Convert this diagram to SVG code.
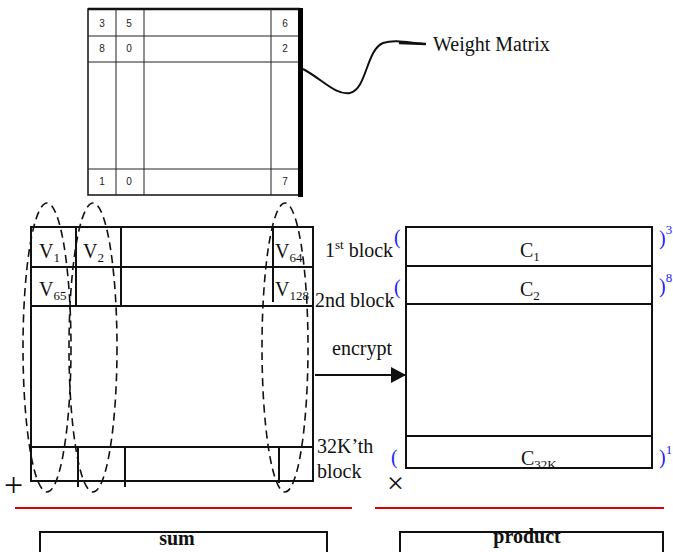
<svg xmlns="http://www.w3.org/2000/svg" width="673" height="552" viewBox="0 0 673 552">
<style>
.t{font-family:"Liberation Serif","Times New Roman",serif;font-size:20px;fill:#111}
.b{font-weight:bold}
.blue{font-family:"Liberation Serif","Times New Roman",serif;fill:#2222ff}
.num{font-family:"Liberation Sans","DejaVu Sans",sans-serif;font-size:10px;fill:#222}
.ln{stroke:#111;stroke-width:2;fill:none}
.thin{stroke:#222;stroke-width:1;fill:none}
.dash{stroke:#111;stroke-width:1.6;fill:none;stroke-dasharray:8 5}
.red{stroke:#e00000;stroke-width:2}
</style>
<defs>
<marker id="ah" markerWidth="16" markerHeight="16" refX="15" refY="8" orient="auto" markerUnits="userSpaceOnUse">
<path d="M0,0 L15,8 L0,16 Z" fill="#111"/>
</marker>
<clipPath id="clipC"><rect x="406" y="436" width="246" height="32"/></clipPath>
</defs>

<g id="weight-matrix">
<rect x="88" y="9" width="212" height="186" fill="#fff" stroke="#111" stroke-width="1.5"/>
<line x1="88" y1="9" x2="300" y2="9" stroke="#111" stroke-width="2.5"/>
<rect x="298" y="8" width="5" height="189" fill="#000"/>
<line class="thin" x1="116" y1="9" x2="116" y2="195"/>
<line class="thin" x1="144" y1="9" x2="144" y2="195"/>
<line class="thin" x1="271" y1="9" x2="271" y2="195"/>
<line class="thin" x1="88" y1="36" x2="298" y2="36"/>
<line class="thin" x1="88" y1="62" x2="298" y2="62"/>
<line class="thin" x1="88" y1="169" x2="298" y2="169"/>
<text class="num" x="102" y="27" text-anchor="middle">3</text>
<text class="num" x="129" y="27" text-anchor="middle">5</text>
<text class="num" x="285" y="27" text-anchor="middle">6</text>
<text class="num" x="102" y="52" text-anchor="middle">8</text>
<text class="num" x="129" y="52" text-anchor="middle">0</text>
<text class="num" x="285" y="52" text-anchor="middle">2</text>
<text class="num" x="102" y="185" text-anchor="middle">1</text>
<text class="num" x="129" y="185" text-anchor="middle">0</text>
<text class="num" x="285" y="185" text-anchor="middle">7</text>
</g>

<g id="weight-label">
<text class="t" x="433" y="51">Weight Matrix</text>
</g>

<g id="vector-grid">
<rect x="31" y="227" width="282" height="254" class="ln"/>
<line class="ln" x1="31" y1="267" x2="313" y2="267"/>
<line class="ln" x1="31" y1="306" x2="313" y2="306"/>
<line class="ln" x1="31" y1="447" x2="313" y2="447"/>
<line class="ln" x1="76" y1="227" x2="76" y2="306"/>
<line class="ln" x1="121" y1="227" x2="121" y2="306"/>
<line class="ln" x1="273" y1="227" x2="273" y2="302"/>
<line class="ln" x1="78" y1="447" x2="78" y2="487"/>
<line class="ln" x1="125" y1="447" x2="125" y2="487"/>
<line class="ln" x1="279" y1="447" x2="279" y2="483"/>
<text class="t" x="39" y="258">V<tspan font-size="13" dy="4">1</tspan></text>
<text class="t" x="83" y="258">V<tspan font-size="13" dy="4">2</tspan></text>
<text class="t" x="275" y="258">V<tspan font-size="13" dy="4">64</tspan></text>
<text class="t" x="39" y="296">V<tspan font-size="13" dy="4">65</tspan></text>
<text class="t" x="275" y="296">V<tspan font-size="13" dy="4">128</tspan></text>
</g>

<g id="column-groups">
<ellipse class="dash" cx="47" cy="347.5" rx="24" ry="144.5"/>
<ellipse class="dash" cx="93" cy="347.5" rx="24" ry="144.5"/>
<ellipse class="dash" cx="285" cy="347.5" rx="23" ry="144.5"/>
</g>

<g id="block-labels">
<text class="t" x="325" y="257">1<tspan font-size="13" dy="-8">st</tspan><tspan dy="8"> block</tspan></text>
<text class="t" x="315" y="307">2nd block</text>
<text class="t" x="317" y="453">32K’th</text>
<text class="t" x="317" y="478">block</text>
<text class="t" x="332" y="355">encrypt</text>
<text class="t" x="4" y="496" style="font-size:34px">+</text>
<text class="t" x="387" y="493" style="font-size:30px">×</text>
</g>

<g id="cipher-blocks">
<rect x="406" y="227" width="246" height="241" class="ln"/>
<line class="ln" x1="406" y1="266" x2="652" y2="266"/>
<line class="ln" x1="406" y1="304" x2="652" y2="304"/>
<line class="ln" x1="406" y1="436" x2="652" y2="436"/>
<text class="t" x="520" y="257">C<tspan font-size="13" dy="4">1</tspan></text>
<text class="t" x="520" y="296">C<tspan font-size="13" dy="4">2</tspan></text>
<text class="t" x="521" y="465" clip-path="url(#clipC)">C<tspan font-size="13" dy="4">32K</tspan></text>
<text class="blue" font-size="20" x="394" y="244">(</text>
<text class="blue" font-size="20" x="394" y="294">(</text>
<text class="blue" font-size="20" x="391" y="464">(</text>
<text class="blue" font-size="20" x="659" y="245">)<tspan font-size="13" dy="-11">3</tspan></text>
<text class="blue" font-size="20" x="659" y="293">)<tspan font-size="13" dy="-11">8</tspan></text>
<text class="blue" font-size="20" x="659" y="464">)<tspan font-size="13" dy="-10">1</tspan></text>
</g>

<g id="sum-box">
<rect x="40" y="532" width="287" height="40" class="ln"/>
<text class="t b" x="177" y="545" text-anchor="middle">sum</text>
</g>
<g id="product-box">
<rect x="400" y="532" width="263" height="40" class="ln"/>
<text class="t b" x="527" y="543" text-anchor="middle">product</text>
</g>

<g id="connectors">
<path d="M303,69 C322,79 336,96 350,93 C367,89 366,50 383,43 C395,39 410,43 426,44" stroke="#111" stroke-width="2" fill="none"/>
<line x1="399" y1="43" x2="426" y2="44" stroke="#111" stroke-width="2.5"/>
<line x1="315" y1="375" x2="406" y2="375" stroke="#111" stroke-width="2" marker-end="url(#ah)"/>
<line class="red" x1="15" y1="508" x2="352" y2="508"/>
<line class="red" x1="375" y1="508" x2="664" y2="508"/>
</g>
</svg>
